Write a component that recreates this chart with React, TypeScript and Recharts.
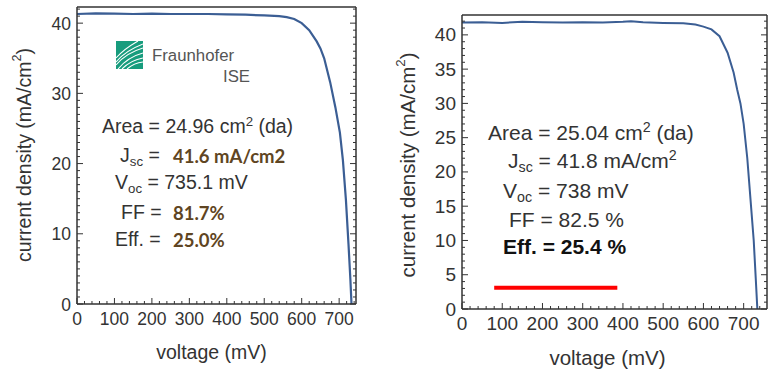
import React from 'react'
import { LineChart, Line, XAxis, YAxis, Label } from 'recharts'

// left cell (Fraunhofer ISE measurement)
const LEFT_V = [0, 50, 100, 150, 200, 250, 300, 350, 400, 450, 500, 540, 560, 580, 600, 620, 640, 650, 660, 676, 690, 702, 710, 718, 725, 730, 733]
const LEFT_J = [41.3, 41.4, 41.35, 41.3, 41.35, 41.3, 41.3, 41.3, 41.25, 41.2, 41.1, 41.0, 40.85, 40.6, 40.0, 39.0, 37.4, 36.4, 35.0, 31.6, 28.0, 24.4, 20.5, 14.9, 8.5, 3.5, 0]

// right cell
const RIGHT_V = [0, 50, 100, 150, 200, 250, 300, 350, 400, 420, 450, 500, 550, 580, 600, 620, 640, 660, 675, 684, 692, 700, 709, 717, 725, 730, 734]
const RIGHT_J = [41.8, 41.85, 41.75, 41.9, 41.85, 41.8, 41.85, 41.8, 41.9, 42.0, 41.85, 41.75, 41.7, 41.5, 41.2, 40.8, 39.8, 37.4, 34.5, 32.0, 30.0, 27.0, 22.0, 16.0, 10.0, 4.5, 0]

// red marker bar on the right plot
const MARK_V = [80, 386]
const MARK_J = [3.1, 3.1]

const X_MAJOR = [0, 100, 200, 300, 400, 500, 600, 700]
const LEFT_Y_MAJOR = [0, 10, 20, 30, 40]
const RIGHT_Y_MAJOR = [0, 5, 10, 15, 20, 25, 30, 35, 40]

const X_TICKS = Array.from({ length: 38 }, (_, i) => i * 20)
const Y_TICKS = Array.from({ length: 43 }, (_, i) => i)

const zip = (v: number[], j: number[]) => v.map((x, i) => ({ v: x, j: j[i] }))
const leftData = zip(LEFT_V, LEFT_J)
const rightData = zip(RIGHT_V, RIGHT_J)
const markData = zip(MARK_V, MARK_J)

const FONT = '"Liberation Sans", Arial, sans-serif'
const INK = '#333'
const CURVE = '#3b5e94'

function AxisTick(props: any) {
  const { x, y, payload, side, majors, label, fontSize } = props
  const v = payload.value
  const major = majors.includes(v)
  const len = major ? 6 : 3
  let line
  let text = null
  if (side === 'bottom') {
    line = <line x1={x} y1={y} x2={x} y2={y - len} stroke={INK} strokeWidth={1} />
    if (major && label)
      text = <text x={x} y={y + 21} textAnchor="middle" fontSize={fontSize} fill={INK} fontFamily={FONT}>{v}</text>
  } else if (side === 'top') {
    line = <line x1={x} y1={y} x2={x} y2={y + len} stroke={INK} strokeWidth={1} />
  } else if (side === 'left') {
    line = <line x1={x} y1={y} x2={x + len} y2={y} stroke={INK} strokeWidth={1} />
    if (major && label)
      text = <text x={x - 6} y={y + 6.5} textAnchor="end" fontSize={fontSize} fill={INK} fontFamily={FONT}>{v}</text>
  } else {
    line = <line x1={x} y1={y} x2={x - len} y2={y} stroke={INK} strokeWidth={1} />
  }
  return <g>{line}{text}</g>
}

function XTitle({ viewBox, dx, dy, fontSize }: any) {
  const cx = viewBox.x + viewBox.width / 2 + dx
  return (
    <text x={cx} y={viewBox.y + dy} textAnchor="middle" fontSize={fontSize} fill={INK} fontFamily={FONT}>
      voltage (mV)
    </text>
  )
}

function YTitle({ cx, cy, fontSize }: any) {
  return (
    <text x={cx} y={cy} transform={`rotate(-90 ${cx} ${cy})`} textAnchor="middle" dominantBaseline="central"
          fontSize={fontSize} fill={INK} fontFamily={FONT}>
      current density (mA/cm<tspan dy={-7} fontSize={fontSize * 0.65}>2</tspan><tspan dy={7}>)</tspan>
    </text>
  )
}

const axisLine = { stroke: INK, strokeWidth: 1.5 }

function IVChart({ width, height, margin, xMax, yMax, yMajors, tickFont, titleFont, xTitleDx, xTitleDy, yTitleX, yTitleY, children }: any) {
  const common = { type: 'number' as const, allowDataOverflow: true, tickSize: 0, tickMargin: 0, interval: 0 as const, axisLine }
  const yTicks = Y_TICKS.filter((t) => t <= yMax)
  return (
    <LineChart width={width} height={height} margin={margin}>
      <XAxis {...common} dataKey="v" domain={[0, xMax]} ticks={X_TICKS} height={30}
             tick={(p: any) => <AxisTick {...p} side="bottom" majors={X_MAJOR} label fontSize={tickFont} />}>
        <Label content={(p: any) => <XTitle viewBox={p.viewBox} dx={xTitleDx} dy={xTitleDy} fontSize={titleFont} />} />
      </XAxis>
      <XAxis {...common} xAxisId="top" orientation="top" domain={[0, xMax]} ticks={X_TICKS} height={1}
             tick={(p: any) => <AxisTick {...p} side="top" majors={X_MAJOR} />} />
      <YAxis {...common} dataKey="j" domain={[0, yMax]} ticks={yTicks} width={50}
             tick={(p: any) => <AxisTick {...p} side="left" majors={yMajors} label fontSize={tickFont} />}>
        <Label content={() => <YTitle cx={yTitleX} cy={yTitleY} fontSize={titleFont} />} />
      </YAxis>
      <YAxis {...common} yAxisId="right" orientation="right" domain={[0, yMax]} ticks={yTicks} width={1}
             tick={(p: any) => <AxisTick {...p} side="right" majors={yMajors} />} />
      {children}
    </LineChart>
  )
}

function Sub({ children }: any) {
  return <span style={{ fontSize: '0.68em', verticalAlign: '-0.28em', lineHeight: 0 }}>{children}</span>
}
function Sup({ children }: any) {
  return <span style={{ fontSize: '0.68em', verticalAlign: '0.55em', lineHeight: 0 }}>{children}</span>
}

function Txt({ x, cy, fs, bold, color, family, children }: any) {
  return (
    <div style={{
      position: 'absolute', left: x, top: cy - fs * 0.49, fontSize: fs, lineHeight: 1, whiteSpace: 'pre',
      fontFamily: family || FONT, fontWeight: bold ? 700 : 400, color: color || INK,
    }}>{children}</div>
  )
}

function Logo() {
  return (
    <svg style={{ position: 'absolute', left: 116, top: 41 }} width={27} height={28} viewBox="0 0 27 28">
      <rect width={27} height={28} fill="#179c7d" />
      <g fill="none" stroke="#fff" strokeWidth={1.1}>
        <path d="M0 24 Q10 12 27 7" />
        <path d="M0 21 Q9 10 27 3" />
        <path d="M2 28 Q12 16 27 12" />
        <path d="M6 28 Q15 19 27 17" />
        <path d="M11 28 Q18 22 27 21" />
        <path d="M0 17 Q8 8 22 0" />
      </g>
    </svg>
  )
}

const BROWN = '#5f4522'
const CALIBRI = 'Lato, "Open Sans", sans-serif'

export default function App() {
  return (
    <div style={{ position: 'absolute', left: 0, top: 0, width: 773, height: 376, background: '#fff', overflow: 'hidden' }}>
      <div style={{ position: 'absolute', left: 0, top: 0 }}>
        <IVChart width={380} height={376} margin={{ top: 6, right: 23, bottom: 42, left: 27 }}
                 xMax={745} yMax={42.3} yMajors={LEFT_Y_MAJOR} tickFont={17.5} titleFont={19.5}
                 xTitleDx={-5} xTitleDy={55} yTitleX={24} yTitleY={155}>
          <Line data={leftData} dataKey="j" stroke={CURVE} strokeWidth={2.2} dot={false} isAnimationActive={false} />
        </IVChart>
      </div>
      <div style={{ position: 'absolute', left: 390, top: 0 }}>
        <IVChart width={383} height={376} margin={{ top: 14, right: 5, bottom: 37, left: 22 }}
                 xMax={758} yMax={42.9} yMajors={RIGHT_Y_MAJOR} tickFont={19} titleFont={20.5}
                 xTitleDx={-7} xTitleDy={56} yTitleX={17} yTitleY={165}>
          <Line data={rightData} dataKey="j" stroke={CURVE} strokeWidth={2} dot={false} isAnimationActive={false} />
          <Line data={markData} dataKey="j" stroke="#ff0000" strokeWidth={4} dot={false} isAnimationActive={false} />
        </IVChart>
      </div>

      {/* left annotations */}
      <Logo />
      <Txt x={152} cy={56} fs={16.8} color="#555">Fraunhofer</Txt>
      <Txt x={223} cy={77} fs={16.8} color="#555">ISE</Txt>
      <Txt x={102} cy={127} fs={19.5}>Area = 24.96 cm<Sup>2</Sup> (da)</Txt>
      <Txt x={120} cy={156} fs={19.5}>J<Sub>sc</Sub> =</Txt>
      <Txt x={173} cy={156} fs={18.5} bold color={BROWN} family={CALIBRI}>41.6 mA/cm2</Txt>
      <Txt x={115} cy={183} fs={19.5}>V<Sub>oc</Sub> = 735.1 mV</Txt>
      <Txt x={121} cy={213} fs={19.5}>FF =</Txt>
      <Txt x={173} cy={213} fs={18.5} bold color={BROWN} family={CALIBRI}>81.7%</Txt>
      <Txt x={115} cy={240} fs={19.5}>Eff. =</Txt>
      <Txt x={173} cy={240} fs={18.5} bold color={BROWN} family={CALIBRI}>25.0%</Txt>

      {/* right annotations */}
      <Txt x={488} cy={132} fs={21}>Area = 25.04 cm<Sup>2</Sup> (da)</Txt>
      <Txt x={508} cy={160} fs={21}>J<Sub>sc</Sub> = 41.8 mA/cm<Sup>2</Sup></Txt>
      <Txt x={503} cy={190} fs={21}>V<Sub>oc</Sub> = 738 mV</Txt>
      <Txt x={509} cy={219} fs={21}>FF = 82.5 %</Txt>
      <Txt x={503} cy={246} fs={21} bold color="#111">Eff. = 25.4 %</Txt>
    </div>
  )
}
